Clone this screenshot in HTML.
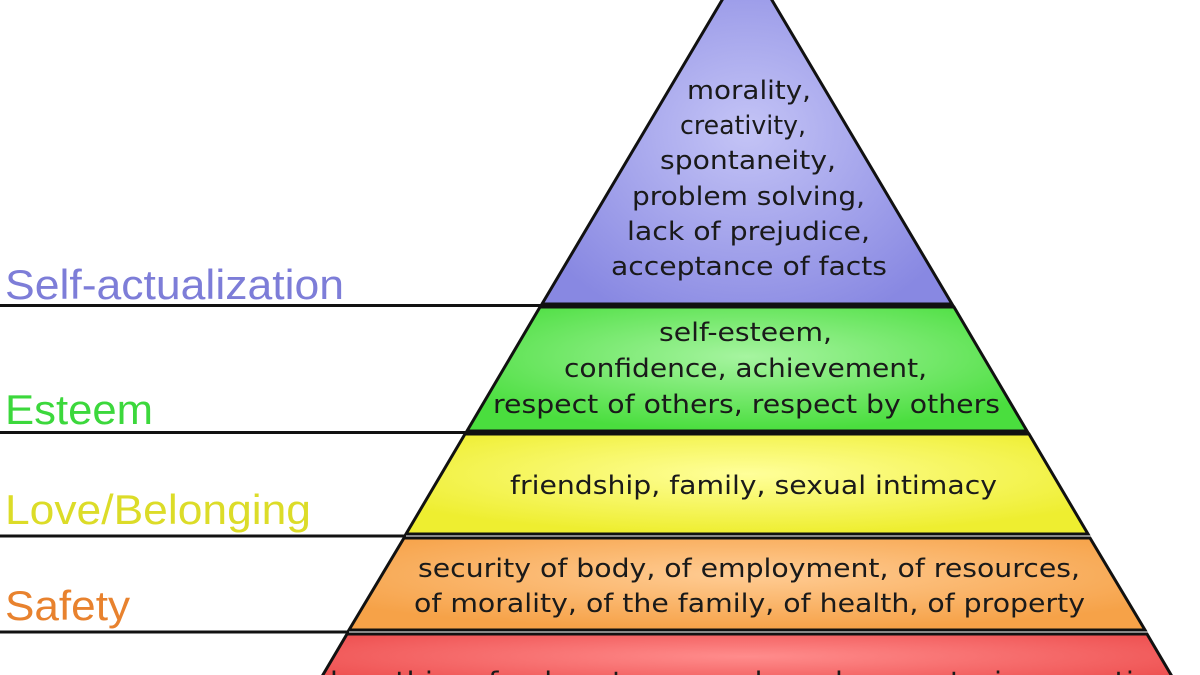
<!DOCTYPE html>
<html><head><meta charset="utf-8"><style>html,body{margin:0;padding:0;background:#fff;overflow:hidden}svg{display:block}</style></head>
<body>
<svg width="1200" height="675" viewBox="0 0 1200 675" xmlns="http://www.w3.org/2000/svg">
<defs>
<radialGradient id="gp" cx="0.5" cy="0.5" r="0.6"><stop offset="0" stop-color="#c4c4f6"/><stop offset="1" stop-color="#8888e2"/></radialGradient>
<radialGradient id="gg" cx="0.5" cy="0.4" r="0.6"><stop offset="0" stop-color="#a6f4a0"/><stop offset="1" stop-color="#4ade3e"/></radialGradient>
<radialGradient id="gy" cx="0.5" cy="0.4" r="0.6"><stop offset="0" stop-color="#ffff9a"/><stop offset="1" stop-color="#eeee30"/></radialGradient>
<radialGradient id="go" cx="0.5" cy="0.4" r="0.6"><stop offset="0" stop-color="#ffcc94"/><stop offset="1" stop-color="#f6a248"/></radialGradient>
<radialGradient id="gr" cx="0.5" cy="0.4" r="0.6"><stop offset="0" stop-color="#ff8c8c"/><stop offset="1" stop-color="#ee5050"/></radialGradient>
</defs>
<g stroke="#111" stroke-width="3" stroke-linejoin="miter">
<polygon points="747,-42 952,304 542,304" fill="url(#gp)"/>
<polygon points="540,307 954,307 1027,431 467,431" fill="url(#gg)"/>
<polygon points="465,434 1029,434 1088,534 406,534" fill="url(#gy)"/>
<polygon points="404,538 1090,538 1145,630 349,630" fill="url(#go)"/>
<polygon points="347,634 1147,634 1180,690 314,690" fill="url(#gr)"/>
<line x1="0" y1="305.5" x2="542" y2="305.5"/>
<line x1="0" y1="432.5" x2="467" y2="432.5"/>
<line x1="0" y1="536" x2="406" y2="536"/>
<line x1="0" y1="632" x2="349" y2="632"/>
</g>
<g font-family="Liberation Sans, sans-serif" font-size="42" lengthAdjust="spacingAndGlyphs">
<text x="5" y="299" fill="#7d7dd8" textLength="339" lengthAdjust="spacingAndGlyphs">Self-actualization</text>
<text x="5" y="424" fill="#3cd83c" textLength="148" lengthAdjust="spacingAndGlyphs">Esteem</text>
<text x="5" y="524" fill="#dcdc28" textLength="306" lengthAdjust="spacingAndGlyphs">Love/Belonging</text>
<text x="5" y="620" fill="#e8822e" textLength="125" lengthAdjust="spacingAndGlyphs">Safety</text>
</g>
<g font-family="DejaVu Sans, sans-serif" font-size="26" fill="#1a1a1a">
<text x="687" y="99" textLength="124" lengthAdjust="spacingAndGlyphs">morality,</text>
<text x="680" y="134" textLength="126" lengthAdjust="spacingAndGlyphs">creativity,</text>
<text x="660" y="169" textLength="176" lengthAdjust="spacingAndGlyphs">spontaneity,</text>
<text x="632" y="205" textLength="233" lengthAdjust="spacingAndGlyphs">problem solving,</text>
<text x="627" y="240" textLength="243" lengthAdjust="spacingAndGlyphs">lack of prejudice,</text>
<text x="611" y="275" textLength="276" lengthAdjust="spacingAndGlyphs">acceptance of facts</text>
<text x="659" y="341" textLength="173" lengthAdjust="spacingAndGlyphs">self-esteem,</text>
<text x="564" y="377" textLength="363" lengthAdjust="spacingAndGlyphs">confidence, achievement,</text>
<text x="493" y="413" textLength="507" lengthAdjust="spacingAndGlyphs">respect of others, respect by others</text>
<text x="510" y="494" textLength="487" lengthAdjust="spacingAndGlyphs">friendship, family, sexual intimacy</text>
<text x="418" y="577" textLength="662" lengthAdjust="spacingAndGlyphs">security of body, of employment, of resources,</text>
<text x="414" y="612" textLength="671" lengthAdjust="spacingAndGlyphs">of morality, of the family, of health, of property</text>
<text x="330" y="690" textLength="840" lengthAdjust="spacingAndGlyphs">breathing, food, water, sex, sleep, homeostasis, excretion</text>
</g>
</svg>
</body></html>
